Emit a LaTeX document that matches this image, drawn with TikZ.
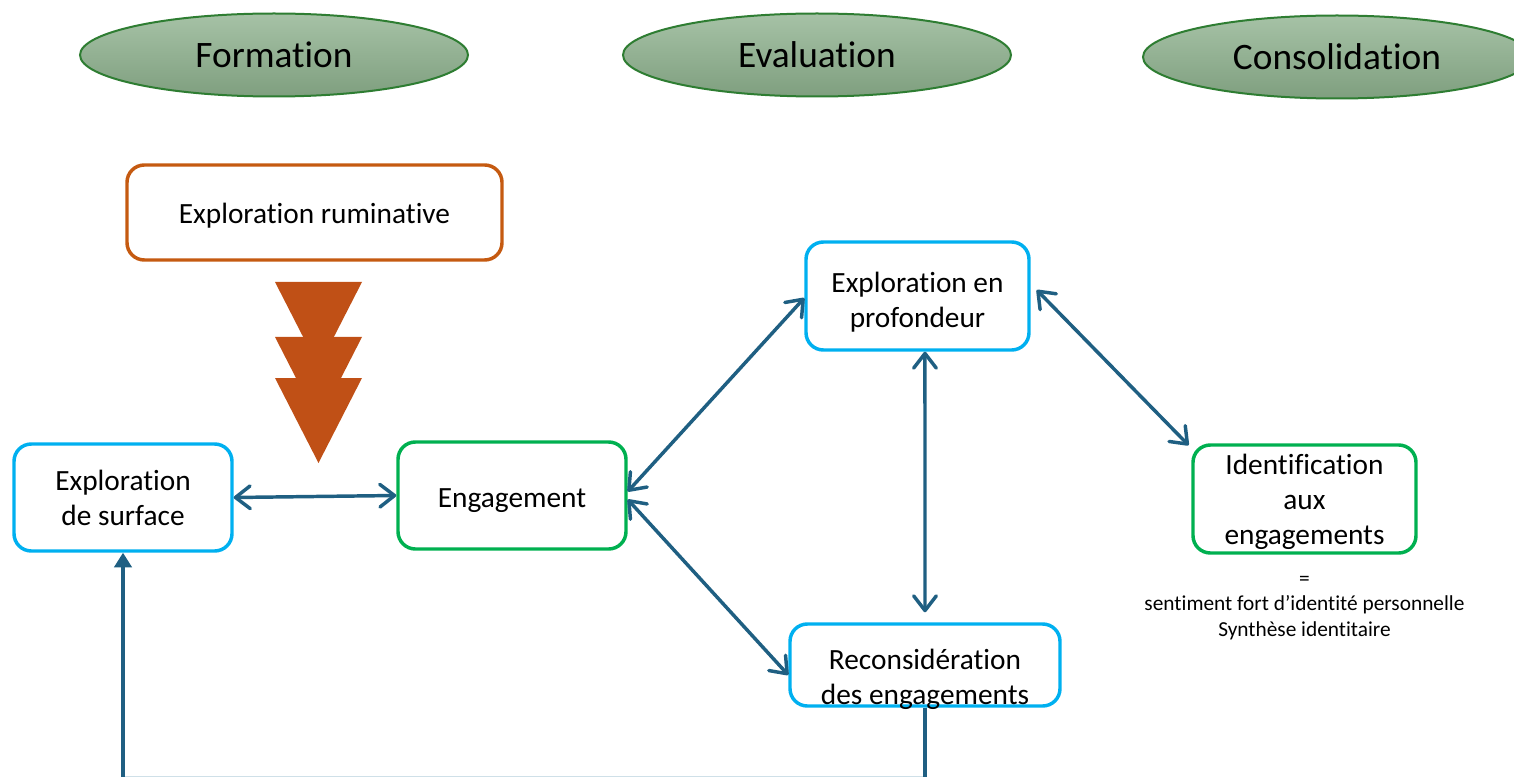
\documentclass[tikz,border=0pt]{standalone}
\usepackage{fontspec}
\setmainfont{Carlito}[Ligatures=NoCommon]
\usetikzlibrary{shapes.geometric,arrows.meta}
\definecolor{arrowc}{HTML}{1F5F82}
\definecolor{cyanb}{HTML}{00B0F0}
\definecolor{greenb}{HTML}{00B050}
\definecolor{orangeb}{HTML}{C55A11}
\definecolor{chev}{HTML}{C05016}
\definecolor{elltop}{HTML}{A6C2A6}
\definecolor{ellbot}{HTML}{7F9F7F}
\definecolor{ellborder}{HTML}{2E7D32}
\definecolor{faint}{HTML}{CFE0E8}
\newcommand{\lift}[1]{\rule{0pt}{#1}}
\tikzset{
  phase/.style={ellipse, draw=ellborder, line width=1.5pt, top color=elltop, bottom color=ellbot,
    minimum width=291pt, minimum height=62.25pt, inner sep=0pt, font=\fontsize{28}{32}\selectfont},
  box/.style={rectangle, rounded corners=13pt, line width=2.6pt, fill=white, align=center,
    inner sep=2pt, font=\fontsize{22}{26.25}\selectfont},
  cbox/.style={box, draw=cyanb},
  gbox/.style={box, draw=greenb},
  obox/.style={box, draw=orangeb},
  arr/.style={draw=arrowc, line width=2.6pt,
    {Straight Barb[length=11pt,width=17pt,round]}-{Straight Barb[length=11pt,width=17pt,round]}},
}
\begin{document}
\begin{tikzpicture}[x=0.75pt,y=-0.75pt]
\useasboundingbox (0,0) rectangle (1514,777);
% phases
\node[phase] (form) at (274,55) {Formation};
\node[phase] (eval) at (817,55) {Evaluation};
\node[phase] (cons) at (1337,57) {Consolidation};
% boxes
\node[obox, minimum width=281.25pt, minimum height=71.25pt] (rum) at (314.5,212.5) {\lift{20pt}Exploration ruminative};
\node[cbox, minimum width=163.5pt, minimum height=80.25pt] (surf) at (123,497.5) {Exploration\\de surface};
\node[gbox, minimum width=171pt, minimum height=80.25pt] (eng) at (512,495.5) {\lift{22.5pt}Engagement};
\node[cbox, minimum width=167.25pt, minimum height=81pt] (prof) at (917.5,296) {\lift{24.5pt}Exploration en\\profondeur};
\node[cbox, minimum width=202.5pt, minimum height=61.5pt, inner ysep=-4pt] (rec) at (925,665) {\lift{37pt}Reconsidération\\des engagements};
\node[gbox, minimum width=167.25pt, minimum height=81pt] (ident) at (1304.5,499) {\lift{20pt}Identification\\aux\\engagements};
\node[align=center, font=\fontsize{16}{19}\selectfont] (note) at (1304.5,608) {=\\sentiment fort d’identité personnelle\\Synthèse identitaire};
% triple chevron arrow
\fill[chev] (275,282) -- (362,282) -- (318.5,367) -- cycle;
\fill[chev] (275,337) -- (362,337) -- (318.5,422) -- cycle;
\fill[chev] (275,378) -- (362,378) -- (318.5,463) -- cycle;
% connectors
\draw[arr] (surf.east) -- (eng.west);
\draw[arr] ([yshift=3pt]eng.east) -- ([yshift=-1.5pt]prof.west);
\draw[arr] ([yshift=-3pt]eng.east) -- ([yshift=-7.5pt]rec.west);
\draw[arr] ([xshift=5.6pt]prof.south) -- ([yshift=7.5pt]rec.north);
\draw[arr] ([xshift=4.5pt,yshift=4.5pt]prof.east) -- ([xshift=-2pt,yshift=-1.5pt]ident.north west);
% return path
\coordinate (bot) at (500,781);
\draw[draw=faint, line width=0.75pt] (123,776) -- (925,776);
\draw[draw=arrowc, line width=2.6pt, -{Triangle[length=11pt,width=13pt]}] (rec.south) |- (bot) -| (surf.south);
\end{tikzpicture}
\end{document}
